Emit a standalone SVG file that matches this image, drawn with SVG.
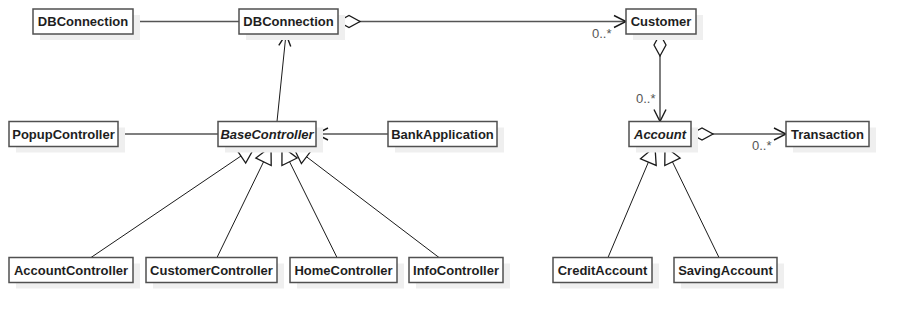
<svg xmlns="http://www.w3.org/2000/svg" xmlns:xlink="http://www.w3.org/1999/xlink" width="908" height="322" viewBox="0 0 908 322">
  <style>
    .shadow { fill: #efefef; stroke: none; }
    .box { fill: #ffffff; stroke: #505050; stroke-width: 1.5; }
    .name { font-family: "Liberation Sans", Arial, sans-serif; font-size: 13px; font-weight: bold; fill: #1e1e1e; text-anchor: middle; }
    .abstract { font-style: italic; }
    .assoc { fill: none; stroke: #555555; stroke-width: 1.5; }
    .gen { fill: none; stroke: #1a1a1a; stroke-width: 1; }
    .mult { font-family: "Liberation Sans", Arial, sans-serif; font-size: 13px; fill: #555555; }
    .head-open { fill: none; stroke: #1a1a1a; stroke-width: 1.4; }
    .head-fill { fill: #ffffff; stroke: #1a1a1a; stroke-width: 1.3; }
  </style>
  <defs>
    <!-- heads point along +x with the tip at the origin -->
    <path id="openArrow" class="head-open" d="M-12,-6 L0,0 L-12,6"/>
    <path id="hollowTriangle" class="head-fill" d="M-17,-8.5 L0,0 L-17,8.5 Z"/>
    <!-- aggregation diamond starts at the origin and runs along +x -->
    <path id="diamond" class="head-fill" d="M0,0 L11,-6 L22,0 L11,6 Z"/>
  </defs>

  <rect width="908" height="322" fill="#ffffff"/>

  <!-- connectors -->
  <g id="connectors">
    <line class="assoc" x1="133" y1="21.5" x2="239" y2="21.5"/>
    <line class="assoc" x1="338" y1="21.5" x2="625" y2="21.5"/>
    <line class="assoc" x1="660" y1="34" x2="660" y2="121"/>
    <line class="assoc" x1="691" y1="134" x2="785" y2="134"/>
    <line class="assoc" x1="118" y1="134" x2="218" y2="134"/>
    <line class="assoc" x1="388" y1="134" x2="317" y2="134"/>
    <line class="gen" x1="277" y1="121.5" x2="286" y2="34"/>
    <line class="gen" x1="91" y1="257.5" x2="255" y2="146.5"/>
    <line class="gen" x1="217" y1="257.5" x2="271" y2="146.5"/>
    <line class="gen" x1="337" y1="257.5" x2="282" y2="146.5"/>
    <line class="gen" x1="439" y1="257.5" x2="293" y2="146.5"/>
    <line class="gen" x1="608" y1="257.5" x2="655" y2="146.5"/>
    <line class="gen" x1="719" y1="257.5" x2="665" y2="146.5"/>

    <!-- aggregation diamonds -->
    <use xlink:href="#diamond" href="#diamond" transform="translate(338,21.5)"/>
    <use xlink:href="#diamond" href="#diamond" transform="translate(660,34) rotate(90)"/>
    <use xlink:href="#diamond" href="#diamond" transform="translate(691,134)"/>

    <!-- navigable ends -->
    <use xlink:href="#openArrow" href="#openArrow" transform="translate(626,21.5)"/>
    <use xlink:href="#openArrow" href="#openArrow" transform="translate(660,121.5) rotate(90)"/>
    <use xlink:href="#openArrow" href="#openArrow" transform="translate(786,134)"/>
    <use xlink:href="#openArrow" href="#openArrow" transform="translate(316,134) rotate(180)"/>
    <use xlink:href="#openArrow" href="#openArrow" transform="translate(286,34) rotate(-84.13)"/>

    <!-- generalization heads -->
    <use xlink:href="#hollowTriangle" href="#hollowTriangle" transform="translate(255,146.5) rotate(-34.09)"/>
    <use xlink:href="#hollowTriangle" href="#hollowTriangle" transform="translate(271,146.5) rotate(-64.06)"/>
    <use xlink:href="#hollowTriangle" href="#hollowTriangle" transform="translate(282,146.5) rotate(-116.36)"/>
    <use xlink:href="#hollowTriangle" href="#hollowTriangle" transform="translate(293,146.5) rotate(-142.76)"/>
    <use xlink:href="#hollowTriangle" href="#hollowTriangle" transform="translate(655,146.5) rotate(-67.05)"/>
    <use xlink:href="#hollowTriangle" href="#hollowTriangle" transform="translate(665,146.5) rotate(-115.94)"/>

    <!-- multiplicities -->
    <text class="mult" x="592" y="38">0..*</text>
    <text class="mult" x="636" y="103">0..*</text>
    <text class="mult" x="752" y="150">0..*</text>
  </g>

  <!-- classes -->
  <g id="DBConnection-left">
    <rect class="shadow" x="40" y="15" width="100" height="25"/>
    <rect class="box" x="33" y="9" width="100" height="25"/>
    <text class="name" x="83" y="26">DBConnection</text>
  </g>
  <g id="DBConnection">
    <rect class="shadow" x="246" y="15" width="99" height="25"/>
    <rect class="box" x="239" y="9" width="99" height="25"/>
    <text class="name" x="288.5" y="26">DBConnection</text>
  </g>
  <g id="Customer">
    <rect class="shadow" x="633" y="15" width="70" height="25"/>
    <rect class="box" x="626" y="9" width="70" height="25"/>
    <text class="name" x="661" y="26">Customer</text>
  </g>
  <g id="PopupController">
    <rect class="shadow" x="16" y="127.5" width="109" height="25"/>
    <rect class="box" x="9" y="121.5" width="109" height="25"/>
    <text class="name" x="63.5" y="138.5">PopupController</text>
  </g>
  <g id="BaseController">
    <rect class="shadow" x="225" y="127.5" width="98" height="25"/>
    <rect class="box" x="218" y="121.5" width="98" height="25"/>
    <text class="name abstract" x="267" y="138.5">BaseController</text>
  </g>
  <g id="BankApplication">
    <rect class="shadow" x="395" y="127.5" width="109" height="25"/>
    <rect class="box" x="388" y="121.5" width="109" height="25"/>
    <text class="name" x="442.5" y="138.5">BankApplication</text>
  </g>
  <g id="Account">
    <rect class="shadow" x="636" y="127.5" width="62" height="25"/>
    <rect class="box" x="629" y="121.5" width="62" height="25"/>
    <text class="name abstract" x="660" y="138.5">Account</text>
  </g>
  <g id="Transaction">
    <rect class="shadow" x="793" y="127.5" width="83" height="25"/>
    <rect class="box" x="786" y="121.5" width="83" height="25"/>
    <text class="name" x="827.5" y="138.5">Transaction</text>
  </g>
  <g id="AccountController">
    <rect class="shadow" x="16" y="263.5" width="124" height="25"/>
    <rect class="box" x="9" y="257.5" width="124" height="25"/>
    <text class="name" x="71" y="274.5">AccountController</text>
  </g>
  <g id="CustomerController">
    <rect class="shadow" x="153" y="263.5" width="131" height="25"/>
    <rect class="box" x="146" y="257.5" width="131" height="25"/>
    <text class="name" x="211.5" y="274.5">CustomerController</text>
  </g>
  <g id="HomeController">
    <rect class="shadow" x="297" y="263.5" width="107" height="25"/>
    <rect class="box" x="290" y="257.5" width="107" height="25"/>
    <text class="name" x="343.5" y="274.5">HomeController</text>
  </g>
  <g id="InfoController">
    <rect class="shadow" x="416" y="263.5" width="94" height="25"/>
    <rect class="box" x="409" y="257.5" width="94" height="25"/>
    <text class="name" x="456" y="274.5">InfoController</text>
  </g>
  <g id="CreditAccount">
    <rect class="shadow" x="560" y="263.5" width="99" height="25"/>
    <rect class="box" x="553" y="257.5" width="99" height="25"/>
    <text class="name" x="602.5" y="274.5">CreditAccount</text>
  </g>
  <g id="SavingAccount">
    <rect class="shadow" x="681" y="263.5" width="103" height="25"/>
    <rect class="box" x="674" y="257.5" width="103" height="25"/>
    <text class="name" x="725.5" y="274.5">SavingAccount</text>
  </g>
</svg>
